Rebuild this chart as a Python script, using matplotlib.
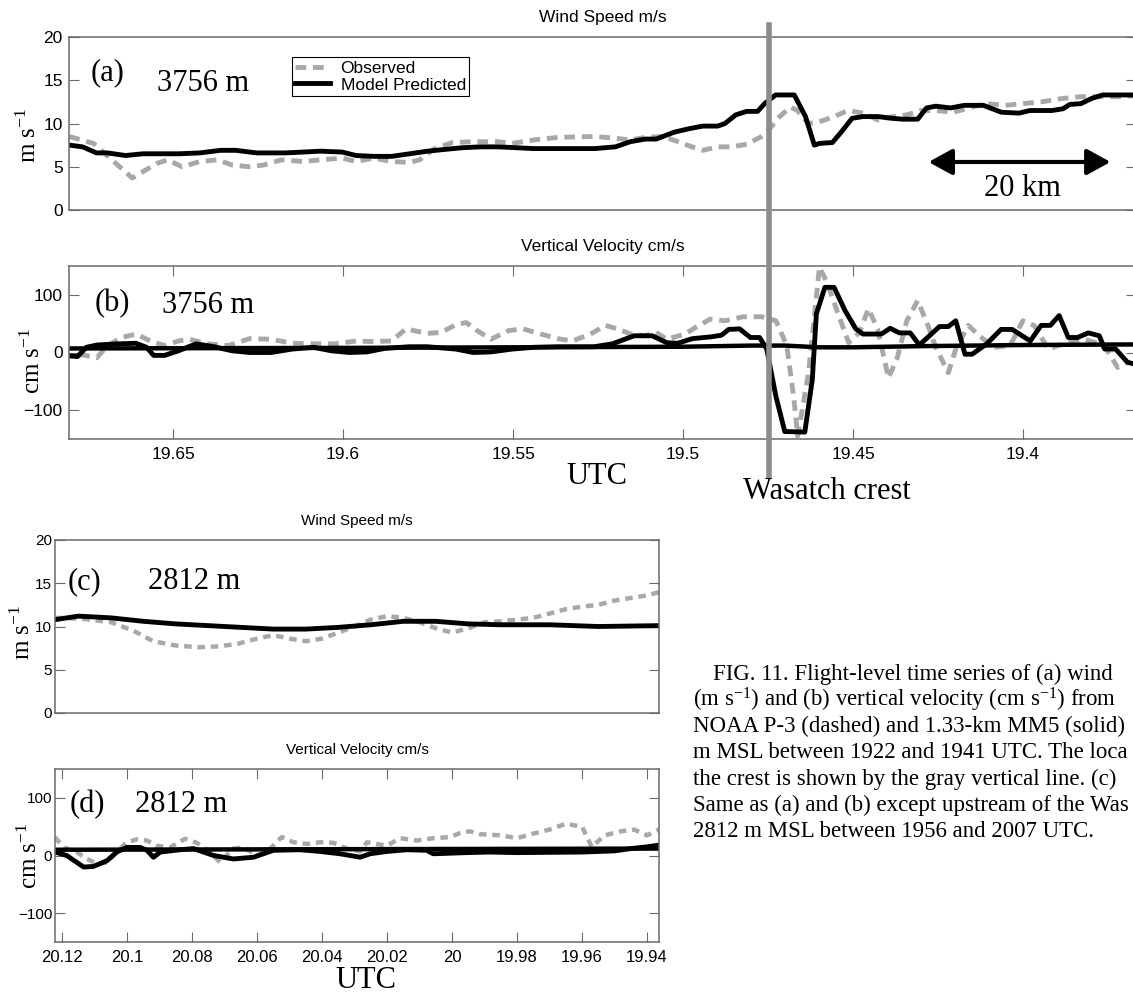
import matplotlib
matplotlib.use("Agg")
import matplotlib.pyplot as plt
from matplotlib.lines import Line2D
from matplotlib.ticker import FuncFormatter
from matplotlib.transforms import blended_transform_factory

W, H = 1133, 993
SANS = ["Liberation Sans", "DejaVu Sans"]
NARROW = ["Liberation Sans Narrow", "Liberation Sans", "DejaVu Sans"]
SERIF = ["Liberation Serif", "DejaVu Serif"]
plt.rcParams["font.family"] = SANS
plt.rcParams["mathtext.fontset"] = "custom"
plt.rcParams["mathtext.rm"] = "Liberation Serif"
plt.rcParams["mathtext.it"] = "Liberation Serif:italic"

# ---- data: crossing at 3756 m, panels (a) and (b) ----
ab_xlim = (19.6806, 19.3668)
ab_ticks = [19.65, 19.6, 19.55, 19.5, 19.45, 19.4]
crest_time = 19.4748

a_obs_t = [19.6805, 19.6734, 19.662, 19.6547, 19.6515, 19.6474, 19.6421, 19.6368,
           19.6327, 19.6275, 19.6234, 19.6181, 19.6117, 19.6067, 19.6003, 19.5962,
           19.5909, 19.5857, 19.5804, 19.5775, 19.5731, 19.5678, 19.5617, 19.5544,
           19.5503, 19.5439, 19.5368, 19.526, 19.5199, 19.5155, 19.5111, 19.5058,
           19.5015, 19.4974, 19.4942, 19.4898, 19.4857, 19.4813, 19.4769, 19.4749,
           19.4716, 19.4684, 19.4664, 19.4632, 19.4599, 19.4556, 19.4515, 19.4471,
           19.4427, 19.4386, 19.4342, 19.4301, 19.4257, 19.4205, 19.4149, 19.4108,
           19.4053, 19.4, 19.3947, 19.3883, 19.383, 19.3766, 19.3722, 19.3672]
a_obs_v = [8.5, 7.7, 3.7, 5.4, 5.8, 5.0, 5.6, 5.8, 5.2, 5.0, 5.2, 5.8, 5.6, 5.8, 6.0, 5.6,
           6.0, 5.6, 5.5, 5.8, 7.1, 7.8, 7.9, 7.9, 7.7, 8.1, 8.4, 8.5, 8.3, 8.1, 8.4, 8.5,
           7.9, 7.3, 6.9, 7.3, 7.3, 7.6, 8.5, 9.2, 10.8, 11.9, 11.5, 10.0, 10.2, 10.8,
           11.5, 11.2, 10.4, 10.8, 11.0, 11.5, 11.5, 11.3, 11.9, 12.3, 12.1, 12.3, 12.5,
           12.9, 13.1, 13.1, 13.1, 13.2]

a_mod_t = [19.6805, 19.6766, 19.6725, 19.6693, 19.664, 19.6588, 19.6482, 19.6421,
           19.636, 19.6316, 19.6254, 19.617, 19.6117, 19.6067, 19.6003, 19.5962,
           19.5909, 19.5857, 19.5804, 19.5751, 19.5702, 19.5649, 19.5596, 19.5544,
           19.5491, 19.5439, 19.5368, 19.526, 19.5199, 19.5155, 19.5111, 19.5079,
           19.5026, 19.4982, 19.4942, 19.4898, 19.4877, 19.4845, 19.4813, 19.4781,
           19.476, 19.4728, 19.4673, 19.464, 19.4614, 19.4599, 19.4561, 19.4535,
           19.4503, 19.4471, 19.4427, 19.4386, 19.4354, 19.431, 19.4284, 19.4257,
           19.4213, 19.4173, 19.4117, 19.4064, 19.4012, 19.398, 19.3915, 19.3883,
           19.3863, 19.383, 19.3798, 19.3766, 19.3722, 19.3672]
a_mod_v = [7.5, 7.3, 6.6, 6.6, 6.3, 6.5, 6.5, 6.6, 6.9, 6.9, 6.6, 6.6, 6.7, 6.8, 6.7, 6.3,
           6.2, 6.2, 6.5, 6.8, 7.0, 7.2, 7.3, 7.3, 7.2, 7.1, 7.1, 7.1, 7.3, 7.9, 8.2, 8.2,
           9.0, 9.4, 9.7, 9.7, 10.0, 11.0, 11.4, 11.4, 12.3, 13.3, 13.3, 10.8, 7.5, 7.7,
           7.8, 9.0, 10.6, 10.8, 10.8, 10.6, 10.5, 10.5, 11.8, 12.0, 11.8, 12.1, 12.1,
           11.3, 11.2, 11.5, 11.5, 11.7, 12.2, 12.3, 12.9, 13.3, 13.3, 13.3]

b_obs_t = [19.6776, 19.6724, 19.6693, 19.6651, 19.6609, 19.6567, 19.6525, 19.6484,
           19.6452, 19.64, 19.6337, 19.6275, 19.6212, 19.6149, 19.6087, 19.6024,
           19.5962, 19.592, 19.5857, 19.5815, 19.5753, 19.5711, 19.5669, 19.5638,
           19.5606, 19.5565, 19.5513, 19.5471, 19.5418, 19.5368, 19.5326, 19.5272,
           19.5229, 19.5187, 19.5155, 19.5112, 19.508, 19.5048, 19.4994, 19.4962,
           19.492, 19.4877, 19.4823, 19.477, 19.4727, 19.4695, 19.4674, 19.4663,
           19.4631, 19.4599, 19.4577, 19.4546, 19.4513, 19.4481, 19.4455, 19.4428,
           19.4396, 19.437, 19.4342, 19.431, 19.4278, 19.4257, 19.422, 19.4198,
           19.4161, 19.4129, 19.4086, 19.4038, 19.4001, 19.3968, 19.3926, 19.3872,
           19.3819, 19.3787, 19.3755, 19.3722, 19.3693]
b_obs_v = [-3, -9, 12, 26, 32, 20, 12, 20, 23, 15, 12, 24, 23, 16, 15, 15, 20, 19, 20, 41,
           33, 35, 48, 52, 38, 23, 38, 41, 32, 24, 20, 32, 47, 40, 32, 29, 35, 23, 32, 44,
           58, 55, 62, 62, 55, 12, -81, -145, -35, 148, 122, 70, 17, 35, 76, 41, -44, -9,
           55, 90, 44, 9, -35, 6, 47, 29, 9, 12, 55, 47, 6, 17, 23, 17, 6, -26, -17]

b_mod_t = [19.6805, 19.6781, 19.6755, 19.6724, 19.6661, 19.6609, 19.6578, 19.6557,
           19.6525, 19.6484, 19.6432, 19.6379, 19.6327, 19.6275, 19.6212, 19.6149,
           19.6087, 19.6035, 19.5982, 19.593, 19.5878, 19.5805, 19.5753, 19.5669,
           19.5617, 19.5565, 19.5502, 19.5439, 19.5368, 19.5262, 19.5208, 19.5144,
           19.5091, 19.5048, 19.5016, 19.4973, 19.492, 19.4887, 19.4866, 19.4834,
           19.4802, 19.4775, 19.4754, 19.4727, 19.4701, 19.4642, 19.462, 19.4608,
           19.4583, 19.4556, 19.4524, 19.4492, 19.4471, 19.4417, 19.4391, 19.4364,
           19.4332, 19.4305, 19.4246, 19.422, 19.4198, 19.4171, 19.415, 19.4107,
           19.4065, 19.4032, 19.3979, 19.3947, 19.392, 19.3894, 19.3867, 19.384,
           19.3808, 19.3776, 19.376, 19.3728, 19.3693, 19.3672]
b_mod_v = [-6, -7, 9, 13, 15, 16, 9, -5, -5, 3, 15, 10, 3, 0, 0, 6, 9, 3, 0, 1, 7, 10, 10,
           6, 0, 1, 6, 9, 10, 10, 15, 29, 29, 17, 16, 24, 27, 30, 40, 41, 26, 26, 6, -76,
           -137, -138, -47, 67, 113, 113, 73, 41, 32, 32, 42, 34, 34, 13, 45, 45, 55, -3,
           -3, 15, 40, 40, 20, 47, 47, 64, 26, 26, 34, 29, 6, 6, -17, -20]

b_base_t = [19.6806, 19.6, 19.55, 19.5, 19.48, 19.47, 19.46, 19.45, 19.43, 19.4, 19.3668]
b_base_v = [7, 8, 9, 10, 12, 12, 9, 9, 11, 13, 14]

# ---- data: upstream leg at 2812 m, panels (c) and (d) ----
cd_xlim = (20.1222, 19.9363)
cd_ticks = [20.12, 20.1, 20.08, 20.06, 20.04, 20.02, 20.0, 19.98, 19.96, 19.94]

c_obs_t = [20.122, 20.114, 20.105, 20.098, 20.092, 20.085, 20.078, 20.072, 20.066, 20.06,
           20.055, 20.05, 20.045, 20.04, 20.035, 20.03, 20.025, 20.02, 20.015, 20.01,
           20.005, 20.0, 19.995, 19.99, 19.985, 19.98, 19.975, 19.97, 19.965, 19.96,
           19.955, 19.95, 19.945, 19.94, 19.936]
c_obs_v = [11.0, 10.9, 10.5, 9.5, 8.3, 7.8, 7.6, 7.7, 8.0, 8.6, 9.0, 8.6, 8.3, 8.6, 9.3,
           10.0, 10.8, 11.2, 11.0, 10.5, 9.8, 9.3, 9.8, 10.5, 10.6, 10.8, 11.0, 11.5, 12.0,
           12.3, 12.5, 13.0, 13.3, 13.6, 14.0]
c_mod_t = [20.122, 20.115, 20.105, 20.095, 20.085, 20.075, 20.065, 20.055, 20.045, 20.035,
           20.025, 20.015, 20.005, 19.995, 19.985, 19.97, 19.955, 19.936]
c_mod_v = [10.8, 11.2, 11.0, 10.6, 10.3, 10.1, 9.9, 9.7, 9.7, 9.9, 10.2, 10.6, 10.6, 10.3,
           10.2, 10.2, 10.0, 10.1]

d_obs_t = [20.1222, 20.1196, 20.1155, 20.1124, 20.1093, 20.1062, 20.1032, 20.1001,
           20.097, 20.0939, 20.0909, 20.0868, 20.0822, 20.0786, 20.0745, 20.0714,
           20.0673, 20.0642, 20.0601, 20.057, 20.0524, 20.0488, 20.0447, 20.0406,
           20.0365, 20.0324, 20.0283, 20.0262, 20.0232, 20.0201, 20.016, 20.0109,
           20.0058, 20.0006, 19.9975, 19.9945, 19.9914, 19.9883, 19.985, 19.98, 19.975,
           19.97, 19.965, 19.96, 19.957, 19.953, 19.948, 19.944, 19.94, 19.9363]
d_obs_v = [32, 14, 6, -6, -14, -12, 6, 23, 28, 26, 17, 14, 29, 22, 6, -12, 12, 14, 0, 6, 32,
           23, 20, 23, 22, 12, 7, 23, 20, 17, 30, 26, 30, 32, 39, 42, 37, 36, 35, 30, 38, 45,
           55, 50, 15, 35, 42, 45, 35, 45]
d_mod_t = [20.1222, 20.1186, 20.1134, 20.1104, 20.1062, 20.1032, 20.1001, 20.096, 20.0939,
           20.0919, 20.0898, 20.0837, 20.0796, 20.0734, 20.0673, 20.0611, 20.055, 20.0468,
           20.0406, 20.0345, 20.0283, 20.0252, 20.0201, 20.0139, 20.0078, 20.0058,
           19.9955, 19.9883, 19.98, 19.96, 19.95, 19.945, 19.94, 19.9363]
d_mod_v = [6, 0, -20, -19, -9, 6, 14, 14, 9, -3, 6, 10, 12, 0, -6, -3, 9, 10, 7, 3, -3, 3, 7,
           10, 9, 3, 5, 6, 5, 6, 8, 12, 15, 18]
d_base_t = [20.1222, 19.9363]
d_base_v = [10, 12]

# caption as it shows in the cropped figure
caption_lines = [
    "FIG. 11. Flight-level time series of (a) wind",
    "(m s$^{-1}$) and (b) vertical velocity (cm s$^{-1}$) from",
    "NOAA P-3 (dashed) and 1.33-km MM5 (solid)",
    "m MSL between 1922 and 1941 UTC. The loca",
    "the crest is shown by the gray vertical line. (c)",
    "Same as (a) and (b) except upstream of the Was",
    "2812 m MSL between 1956 and 2007 UTC.",
]

OBS = "#a8a8a8"
SPINE = "#6a6a6a"

fig = plt.figure(figsize=(W / 100, H / 100), dpi=100)
fig.patch.set_facecolor("white")


def add_ax(left, top, right, bottom):
    return fig.add_axes([left / W, 1 - bottom / H, (right - left) / W, (bottom - top) / H])


def fmt(v, pos):
    return f"{v:g}".replace("-", "\u2212")


def style(ax, family, size, ypad):
    for s in ax.spines.values():
        s.set_color(SPINE)
        s.set_linewidth(1.1)
    ax.tick_params(direction="in", length=7, width=0.8, color=SPINE, top=True, right=True,
                   labelsize=size, labelfontfamily=family)
    ax.tick_params(axis="y", pad=ypad)
    ax.tick_params(axis="x", pad=6)
    ax.xaxis.set_major_formatter(FuncFormatter(fmt))
    ax.yaxis.set_major_formatter(FuncFormatter(fmt))


ax_a = add_ax(69, 37, 1136, 210)
ax_b = add_ax(69, 266, 1136, 439)
ax_c = add_ax(55, 540, 659, 713)
ax_d = add_ax(55, 769, 659, 942)

# (a) wind speed
ax_a.plot(a_obs_t, a_obs_v, color=OBS, lw=3.5, dashes=(2.2, 1.4), label="Observed")
ax_a.plot(a_mod_t, a_mod_v, color="k", lw=3.5, label="Model Predicted")
ax_a.set_xlim(ab_xlim)
ax_a.set_ylim(0, 20)
ax_a.set_yticks([0, 5, 10, 15, 20])
ax_a.set_xticks([])
style(ax_a, SANS, 12.5, 4.5)
ax_a.set_title("Wind Speed m/s", fontsize=12.5, pad=11)
ax_a.set_ylabel("m s$^{-1}$", fontsize=18, family=SERIF)
ax_a.yaxis.set_label_coords(-0.026, 0.434)
leg = ax_a.legend(loc="upper left", bbox_to_anchor=(292 / W, 1 - 57 / H),
                  bbox_transform=fig.transFigure, fontsize=12.5, handlelength=2.0,
                  handletextpad=0.6, borderpad=0.2, labelspacing=0.1, borderaxespad=0,
                  fancybox=False, framealpha=1)
leg.get_frame().set_edgecolor("k")
leg.get_frame().set_linewidth(0.8)
ax_a.text(0.0206, 0.751, "(a)", transform=ax_a.transAxes, fontsize=22, family=SERIF,
          va="baseline")
ax_a.text(0.0825, 0.688, "3756 m", transform=ax_a.transAxes, fontsize=22, family=SERIF,
          va="baseline")
ax_a.annotate("", xy=(19.3743, 5.55), xytext=(19.4278, 5.55),
              arrowprops=dict(arrowstyle="<|-|>,head_length=0.4,head_width=0.22",
                              mutation_scale=36, lw=3, color="k", shrinkA=0, shrinkB=0))
ax_a.text(19.4003, 2.5, "20 km", fontsize=22, family=SERIF, ha="center", va="center")

# (b) vertical velocity
ax_b.plot(b_obs_t, b_obs_v, color=OBS, lw=3.5, dashes=(2.2, 1.4))
ax_b.plot(b_base_t, b_base_v, color="k", lw=3.2)
ax_b.plot(b_mod_t, b_mod_v, color="k", lw=3.5)
ax_b.set_xlim(ab_xlim)
ax_b.set_ylim(-150, 150)
ax_b.set_yticks([-100, 0, 100])
ax_b.set_xticks(ab_ticks)
style(ax_b, SANS, 12.5, 4.5)
ax_b.set_title("Vertical Velocity cm/s", fontsize=12.5, pad=10.5)
ax_b.set_ylabel("cm s$^{-1}$", fontsize=18, family=SERIF)
ax_b.yaxis.set_label_coords(-0.0225, 0.451)
ax_b.text(0.0244, 0.74, "(b)", transform=ax_b.transAxes, fontsize=22, family=SERIF,
          va="baseline")
ax_b.text(0.0876, 0.728, "3756 m", transform=ax_b.transAxes, fontsize=22, family=SERIF,
          va="baseline")
fig.text(597 / W, 1 - 476 / H, "UTC", fontsize=22, family=SERIF, ha="center", va="center")
fig.text(743 / W, 1 - 491 / H, "Wasatch crest", fontsize=22, family=SERIF, ha="left",
         va="center")

# gray crest line crossing both upper panels
crest = Line2D([crest_time, crest_time], [1 - 25 / H, 1 - 476 / H], color="#8c8c8c", lw=4,
               transform=blended_transform_factory(ax_b.transData, fig.transFigure))
fig.add_artist(crest)

# (c) wind speed upstream
ax_c.plot(c_obs_t, c_obs_v, color=OBS, lw=3.2, dashes=(1.7, 1.3))
ax_c.plot(c_mod_t, c_mod_v, color="k", lw=3.5)
ax_c.set_xlim(cd_xlim)
ax_c.set_ylim(0, 20)
ax_c.set_yticks([0, 5, 10, 15, 20])
ax_c.set_xticks([])
style(ax_c, NARROW, 11, 2)
ax_c.set_title("Wind Speed m/s", fontsize=11, family=NARROW, pad=10.5)
ax_c.set_ylabel("m s$^{-1}$", fontsize=18, family=SERIF)
ax_c.yaxis.set_label_coords(-0.033, 0.468)
ax_c.text(0.0215, 0.717, "(c)", transform=ax_c.transAxes, fontsize=22, family=SERIF,
          va="baseline")
ax_c.text(0.154, 0.717, "2812 m", transform=ax_c.transAxes, fontsize=22, family=SERIF,
          va="baseline")

# (d) vertical velocity upstream
ax_d.plot(d_obs_t, d_obs_v, color=OBS, lw=3.2, dashes=(1.7, 1.3))
ax_d.plot(d_base_t, d_base_v, color="k", lw=3.2)
ax_d.plot(d_mod_t, d_mod_v, color="k", lw=3.5)
ax_d.set_xlim(cd_xlim)
ax_d.set_ylim(-150, 150)
ax_d.set_yticks([-100, 0, 100])
ax_d.set_xticks(cd_ticks)
style(ax_d, NARROW, 12, 2)
ax_d.tick_params(axis="y", labelsize=11)
ax_d.set_title("Vertical Velocity cm/s", fontsize=11, family=NARROW, pad=11)
ax_d.set_ylabel("cm s$^{-1}$", fontsize=18, family=SERIF)
ax_d.yaxis.set_label_coords(-0.0215, 0.5)
ax_d.text(0.0248, 0.751, "(d)", transform=ax_d.transAxes, fontsize=22, family=SERIF,
          va="baseline")
ax_d.text(0.132, 0.751, "2812 m", transform=ax_d.transAxes, fontsize=22, family=SERIF,
          va="baseline")
fig.text(366 / W, 1 - 980 / H, "UTC", fontsize=22, family=SERIF, ha="center", va="center")

# caption
for i, line in enumerate(caption_lines):
    x0 = 713 if i == 0 else 693
    fig.text(x0 / W, 1 - (674 + 26.3 * i) / H, line, fontsize=16.5, family=SERIF,
             ha="left", va="center")

fig.savefig("out.png", dpi=100)
